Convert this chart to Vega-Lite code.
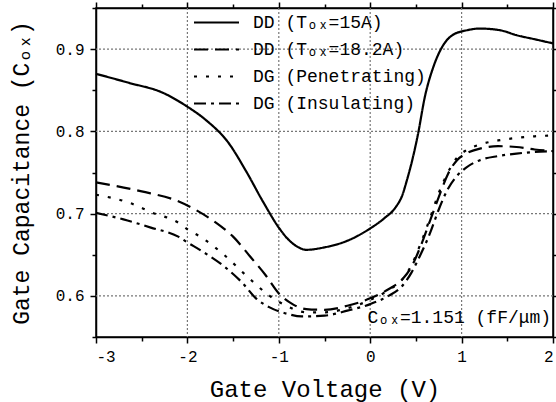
{
 "$schema": "https://vega.github.io/schema/vega-lite/v6.json",
 "width": 457,
 "height": 329,
 "autosize": "none",
 "padding": {"left": 96, "top": 8, "right": 3, "bottom": 65},
 "background": "white",
 "config": {"font": "Liberation Mono", "view": {"stroke": "black", "strokeWidth": 1.5}},
 "datasets": {
  "gridx": [{"g": -2}, {"g": -1}, {"g": 0}, {"g": 1}],
  "gridy": [{"g": 0.6}, {"g": 0.7}, {"g": 0.8}, {"g": 0.9}],
  "note": [{"v": 1.98, "c": 0.567, "t": "Cₒₓ=1.151 (fF/μm)"}]
 },
 "data": {"values": [
  {"s": "DD (Tₒₓ=15A)", "v": -3.0, "c": 0.870},
  {"s": "DD (Tₒₓ=15A)", "v": -2.64, "c": 0.859},
  {"s": "DD (Tₒₓ=15A)", "v": -2.27, "c": 0.847},
  {"s": "DD (Tₒₓ=15A)", "v": -2.0, "c": 0.830},
  {"s": "DD (Tₒₓ=15A)", "v": -1.8, "c": 0.814},
  {"s": "DD (Tₒₓ=15A)", "v": -1.55, "c": 0.786},
  {"s": "DD (Tₒₓ=15A)", "v": -1.36, "c": 0.752},
  {"s": "DD (Tₒₓ=15A)", "v": -1.17, "c": 0.714},
  {"s": "DD (Tₒₓ=15A)", "v": -1.0, "c": 0.683},
  {"s": "DD (Tₒₓ=15A)", "v": -0.9, "c": 0.669},
  {"s": "DD (Tₒₓ=15A)", "v": -0.8, "c": 0.660},
  {"s": "DD (Tₒₓ=15A)", "v": -0.7, "c": 0.656},
  {"s": "DD (Tₒₓ=15A)", "v": -0.5, "c": 0.659},
  {"s": "DD (Tₒₓ=15A)", "v": -0.25, "c": 0.667},
  {"s": "DD (Tₒₓ=15A)", "v": 0.0, "c": 0.682},
  {"s": "DD (Tₒₓ=15A)", "v": 0.15, "c": 0.694},
  {"s": "DD (Tₒₓ=15A)", "v": 0.28, "c": 0.708},
  {"s": "DD (Tₒₓ=15A)", "v": 0.35, "c": 0.722},
  {"s": "DD (Tₒₓ=15A)", "v": 0.4, "c": 0.740},
  {"s": "DD (Tₒₓ=15A)", "v": 0.46, "c": 0.765},
  {"s": "DD (Tₒₓ=15A)", "v": 0.52, "c": 0.795},
  {"s": "DD (Tₒₓ=15A)", "v": 0.6, "c": 0.843},
  {"s": "DD (Tₒₓ=15A)", "v": 0.69, "c": 0.878},
  {"s": "DD (Tₒₓ=15A)", "v": 0.8, "c": 0.905},
  {"s": "DD (Tₒₓ=15A)", "v": 0.9, "c": 0.917},
  {"s": "DD (Tₒₓ=15A)", "v": 1.06, "c": 0.923},
  {"s": "DD (Tₒₓ=15A)", "v": 1.2, "c": 0.925},
  {"s": "DD (Tₒₓ=15A)", "v": 1.42, "c": 0.923},
  {"s": "DD (Tₒₓ=15A)", "v": 1.6, "c": 0.917},
  {"s": "DD (Tₒₓ=15A)", "v": 1.8, "c": 0.912},
  {"s": "DD (Tₒₓ=15A)", "v": 2.0, "c": 0.907},

  {"s": "DD (Tₒₓ=18.2A)", "v": -3.0, "c": 0.738},
  {"s": "DD (Tₒₓ=18.2A)", "v": -2.5, "c": 0.727},
  {"s": "DD (Tₒₓ=18.2A)", "v": -2.1, "c": 0.715},
  {"s": "DD (Tₒₓ=18.2A)", "v": -1.9, "c": 0.704},
  {"s": "DD (Tₒₓ=18.2A)", "v": -1.7, "c": 0.690},
  {"s": "DD (Tₒₓ=18.2A)", "v": -1.5, "c": 0.672},
  {"s": "DD (Tₒₓ=18.2A)", "v": -1.3, "c": 0.646},
  {"s": "DD (Tₒₓ=18.2A)", "v": -1.15, "c": 0.626},
  {"s": "DD (Tₒₓ=18.2A)", "v": -1.0, "c": 0.603},
  {"s": "DD (Tₒₓ=18.2A)", "v": -0.85, "c": 0.590},
  {"s": "DD (Tₒₓ=18.2A)", "v": -0.7, "c": 0.584},
  {"s": "DD (Tₒₓ=18.2A)", "v": -0.5, "c": 0.583},
  {"s": "DD (Tₒₓ=18.2A)", "v": -0.25, "c": 0.588},
  {"s": "DD (Tₒₓ=18.2A)", "v": 0.0, "c": 0.597},
  {"s": "DD (Tₒₓ=18.2A)", "v": 0.2, "c": 0.608},
  {"s": "DD (Tₒₓ=18.2A)", "v": 0.35, "c": 0.620},
  {"s": "DD (Tₒₓ=18.2A)", "v": 0.45, "c": 0.635},
  {"s": "DD (Tₒₓ=18.2A)", "v": 0.55, "c": 0.660},
  {"s": "DD (Tₒₓ=18.2A)", "v": 0.65, "c": 0.690},
  {"s": "DD (Tₒₓ=18.2A)", "v": 0.75, "c": 0.720},
  {"s": "DD (Tₒₓ=18.2A)", "v": 0.85, "c": 0.748},
  {"s": "DD (Tₒₓ=18.2A)", "v": 0.95, "c": 0.765},
  {"s": "DD (Tₒₓ=18.2A)", "v": 1.05, "c": 0.773},
  {"s": "DD (Tₒₓ=18.2A)", "v": 1.2, "c": 0.779},
  {"s": "DD (Tₒₓ=18.2A)", "v": 1.4, "c": 0.782},
  {"s": "DD (Tₒₓ=18.2A)", "v": 1.6, "c": 0.781},
  {"s": "DD (Tₒₓ=18.2A)", "v": 1.8, "c": 0.778},
  {"s": "DD (Tₒₓ=18.2A)", "v": 2.0, "c": 0.776},

  {"s": "DG (Penetrating)", "v": -3.0, "c": 0.723},
  {"s": "DG (Penetrating)", "v": -2.63, "c": 0.713},
  {"s": "DG (Penetrating)", "v": -2.38, "c": 0.701},
  {"s": "DG (Penetrating)", "v": -2.1, "c": 0.689},
  {"s": "DG (Penetrating)", "v": -2.0, "c": 0.681},
  {"s": "DG (Penetrating)", "v": -1.86, "c": 0.672},
  {"s": "DG (Penetrating)", "v": -1.6, "c": 0.650},
  {"s": "DG (Penetrating)", "v": -1.35, "c": 0.624},
  {"s": "DG (Penetrating)", "v": -1.1, "c": 0.600},
  {"s": "DG (Penetrating)", "v": -0.9, "c": 0.587},
  {"s": "DG (Penetrating)", "v": -0.7, "c": 0.580},
  {"s": "DG (Penetrating)", "v": -0.5, "c": 0.580},
  {"s": "DG (Penetrating)", "v": -0.25, "c": 0.585},
  {"s": "DG (Penetrating)", "v": 0.0, "c": 0.595},
  {"s": "DG (Penetrating)", "v": 0.2, "c": 0.607},
  {"s": "DG (Penetrating)", "v": 0.35, "c": 0.620},
  {"s": "DG (Penetrating)", "v": 0.45, "c": 0.637},
  {"s": "DG (Penetrating)", "v": 0.55, "c": 0.663},
  {"s": "DG (Penetrating)", "v": 0.65, "c": 0.693},
  {"s": "DG (Penetrating)", "v": 0.75, "c": 0.725},
  {"s": "DG (Penetrating)", "v": 0.85, "c": 0.750},
  {"s": "DG (Penetrating)", "v": 0.95, "c": 0.768},
  {"s": "DG (Penetrating)", "v": 1.05, "c": 0.777},
  {"s": "DG (Penetrating)", "v": 1.2, "c": 0.784},
  {"s": "DG (Penetrating)", "v": 1.4, "c": 0.789},
  {"s": "DG (Penetrating)", "v": 1.6, "c": 0.792},
  {"s": "DG (Penetrating)", "v": 1.8, "c": 0.794},
  {"s": "DG (Penetrating)", "v": 2.0, "c": 0.795},

  {"s": "DG (Insulating)", "v": -3.0, "c": 0.701},
  {"s": "DG (Insulating)", "v": -2.7, "c": 0.693},
  {"s": "DG (Insulating)", "v": -2.4, "c": 0.683},
  {"s": "DG (Insulating)", "v": -2.1, "c": 0.672},
  {"s": "DG (Insulating)", "v": -2.0, "c": 0.665},
  {"s": "DG (Insulating)", "v": -1.85, "c": 0.655},
  {"s": "DG (Insulating)", "v": -1.6, "c": 0.636},
  {"s": "DG (Insulating)", "v": -1.4, "c": 0.616},
  {"s": "DG (Insulating)", "v": -1.25, "c": 0.597},
  {"s": "DG (Insulating)", "v": -1.1, "c": 0.586},
  {"s": "DG (Insulating)", "v": -0.9, "c": 0.578},
  {"s": "DG (Insulating)", "v": -0.75, "c": 0.575},
  {"s": "DG (Insulating)", "v": -0.5, "c": 0.576},
  {"s": "DG (Insulating)", "v": -0.25, "c": 0.582},
  {"s": "DG (Insulating)", "v": 0.0, "c": 0.590},
  {"s": "DG (Insulating)", "v": 0.2, "c": 0.600},
  {"s": "DG (Insulating)", "v": 0.35, "c": 0.612},
  {"s": "DG (Insulating)", "v": 0.45, "c": 0.628},
  {"s": "DG (Insulating)", "v": 0.55, "c": 0.650},
  {"s": "DG (Insulating)", "v": 0.65, "c": 0.675},
  {"s": "DG (Insulating)", "v": 0.75, "c": 0.705},
  {"s": "DG (Insulating)", "v": 0.85, "c": 0.730},
  {"s": "DG (Insulating)", "v": 0.95, "c": 0.746},
  {"s": "DG (Insulating)", "v": 1.05, "c": 0.756},
  {"s": "DG (Insulating)", "v": 1.2, "c": 0.765},
  {"s": "DG (Insulating)", "v": 1.4, "c": 0.770},
  {"s": "DG (Insulating)", "v": 1.6, "c": 0.773},
  {"s": "DG (Insulating)", "v": 1.8, "c": 0.775},
  {"s": "DG (Insulating)", "v": 2.0, "c": 0.776}
 ]},
 "layer": [
  {
   "data": {"name": "gridx"},
   "mark": {"type": "rule", "color": "#777777", "strokeWidth": 1.2, "strokeDash": [2, 2]},
   "encoding": {"x": {"field": "g", "type": "quantitative", "axis": null}}
  },
  {
   "data": {"name": "gridy"},
   "mark": {"type": "rule", "color": "#777777", "strokeWidth": 1.2, "strokeDash": [2, 2]},
   "encoding": {"y": {"field": "g", "type": "quantitative", "axis": null}}
  },
  {
   "mark": {"type": "line", "color": "black", "strokeWidth": 2.2, "interpolate": "monotone"},
   "encoding": {
    "x": {"field": "v", "type": "quantitative",
     "scale": {"domain": [-3, 2], "nice": false, "zero": false},
     "axis": {"orient": "bottom", "values": [-3, -2.5, -2, -1.5, -1, -0.5, 0, 0.5, 1, 1.5, 2],
      "labelExpr": "datum.value % 1 == 0 ? toString(datum.value) : ''",
      "tickSize": {"condition": {"test": "datum.value % 1 == 0", "value": 6}, "value": 4},
      "grid": false,
      "domainColor": "black", "domainWidth": 1.5, "tickColor": "black", "tickWidth": 1.5,
      "labelFont": "Liberation Mono", "labelFontSize": 16, "labelColor": "black", "labelPadding": 5,
      "title": "Gate Voltage (V)", "titleFont": "Liberation Mono", "titleFontSize": 24,
      "titleFontWeight": "normal", "titleColor": "black", "titlePadding": 13}},
    "y": {"field": "c", "type": "quantitative",
     "scale": {"domain": [0.55, 0.95], "nice": false, "zero": false},
     "axis": {"orient": "left", "values": [0.55, 0.6, 0.65, 0.7, 0.75, 0.8, 0.85, 0.9, 0.95],
      "labelExpr": "(abs(datum.value*10 - round(datum.value*10)) < 0.001 && datum.value > 0.56 && datum.value < 0.94) ? format(datum.value, '.1f') : ''",
      "tickSize": {"condition": {"test": "abs(datum.value*10 - round(datum.value*10)) < 0.001", "value": 6}, "value": 4},
      "grid": false,
      "domainColor": "black", "domainWidth": 1.5, "tickColor": "black", "tickWidth": 1.5,
      "labelFont": "Liberation Mono", "labelFontSize": 16, "labelColor": "black", "labelPadding": 6,
      "title": "Gate Capacitance (Cₒₓ)", "titleFont": "Liberation Mono", "titleFontSize": 23,
      "titleFontWeight": "normal", "titleColor": "black", "titlePadding": 22}},
    "strokeDash": {"field": "s", "type": "nominal",
     "scale": {"domain": ["DD (Tₒₓ=15A)", "DD (Tₒₓ=18.2A)", "DG (Penetrating)", "DG (Insulating)"],
      "range": [[1, 0], [14, 7], [3, 9], [12, 5, 3, 5]]},
     "legend": {"orient": "none", "legendX": 104, "legendY": -2, "title": null,
      "symbolType": "M-1.5,0H1.5", "symbolSize": 900, "symbolStrokeWidth": 2.2, "symbolStrokeColor": "black",
      "labelFont": "Liberation Mono", "labelFontSize": 18, "labelColor": "black", "labelOffset": 20,
      "rowPadding": 1, "padding": 0, "labelLimit": 400}}
   }
  },
  {
   "mark": {"type": "point", "opacity": 0},
   "encoding": {
    "x": {"field": "v", "type": "quantitative",
     "axis": {"orient": "top", "values": [-3, -2.5, -2, -1.5, -1, -0.5, 0, 0.5, 1, 1.5, 2],
      "labels": false, "grid": false, "title": null,
      "tickSize": {"condition": {"test": "datum.value % 1 == 0", "value": 6}, "value": 4},
      "domainColor": "black", "domainWidth": 1.5, "tickColor": "black", "tickWidth": 1.5}},
    "y": {"field": "c", "type": "quantitative",
     "axis": {"orient": "right", "values": [0.55, 0.6, 0.65, 0.7, 0.75, 0.8, 0.85, 0.9, 0.95],
      "labels": false, "grid": false, "title": null,
      "tickSize": {"condition": {"test": "abs(datum.value*10 - round(datum.value*10)) < 0.001", "value": 6}, "value": 4},
      "domainColor": "black", "domainWidth": 1.5, "tickColor": "black", "tickWidth": 1.5}}
   }
  },
  {
   "data": {"name": "note"},
   "mark": {"type": "text", "align": "right", "baseline": "alphabetic", "font": "Liberation Mono", "fontSize": 18, "color": "black"},
   "encoding": {
    "x": {"field": "v", "type": "quantitative", "axis": null},
    "y": {"field": "c", "type": "quantitative", "axis": null},
    "text": {"field": "t"}
   }
  }
 ],
 "resolve": {"axis": {"x": "independent", "y": "independent"}}
}
